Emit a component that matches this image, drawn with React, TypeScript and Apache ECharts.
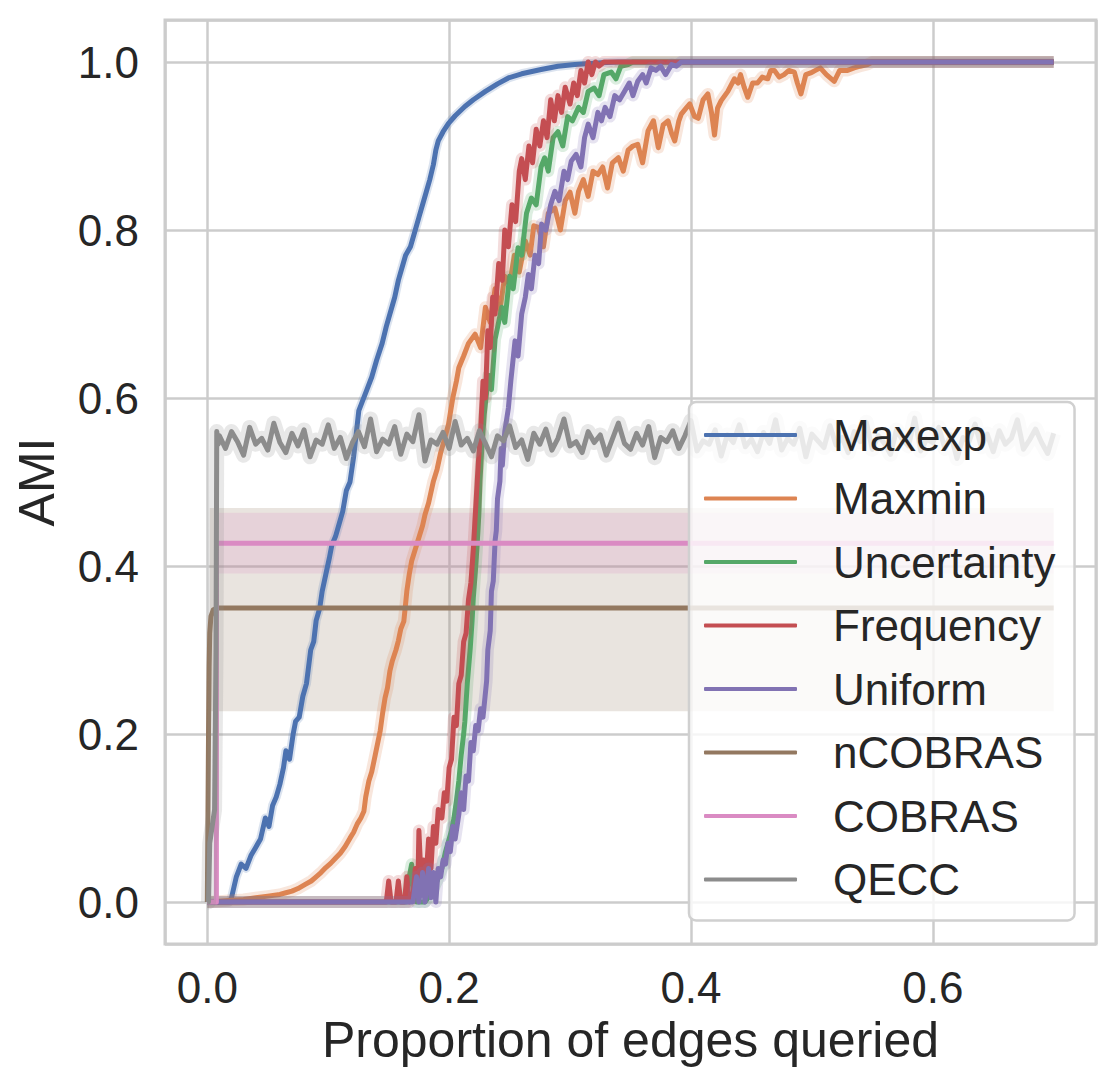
import React, { useEffect, useRef } from "react";
import * as echarts from "echarts";

const seriesNames = ["Maxexp", "Maxmin", "Uncertainty", "Frequency", "Uniform", "nCOBRAS", "COBRAS", "QECC"];
const seriesColors = ["#4c72b0", "#dd8452", "#55a868", "#c44e52", "#8172b3", "#937860", "#da8bc3", "#8c8c8c"];
const bandColors = ["rgba(76,114,176,0.2)", "rgba(221,132,82,0.2)", "rgba(85,168,104,0.2)", "rgba(196,78,82,0.2)", "rgba(129,114,179,0.2)", "rgba(147,120,96,0.2)", "rgba(218,139,195,0.2)", "rgba(140,140,140,0.2)"];

const maxexp: number[][] = [
  [0, 0], [0.018, 0], [0.02, 0.005], [0.024, 0.03], [0.028, 0.045], [0.032, 0.04], [0.036, 0.055], [0.04, 0.065],
  [0.044, 0.075], [0.048, 0.1], [0.051, 0.09], [0.054, 0.115], [0.057, 0.125], [0.06, 0.14], [0.063, 0.16], [0.065, 0.18],
  [0.068, 0.17], [0.071, 0.2], [0.073, 0.215], [0.076, 0.22], [0.079, 0.245], [0.082, 0.26], [0.0855, 0.3], [0.088, 0.31],
  [0.09, 0.335], [0.093, 0.35], [0.095, 0.37], [0.098, 0.39], [0.101, 0.41], [0.103, 0.425], [0.106, 0.435], [0.109, 0.45],
  [0.112, 0.465], [0.115, 0.49], [0.118, 0.5], [0.121, 0.53], [0.1253, 0.585], [0.128, 0.595], [0.132, 0.61], [0.136, 0.625],
  [0.14, 0.645], [0.1446, 0.665], [0.148, 0.685], [0.151, 0.7], [0.155, 0.72], [0.158, 0.74], [0.161, 0.755], [0.164, 0.77],
  [0.168, 0.78], [0.172, 0.8], [0.175, 0.815], [0.178, 0.83], [0.181, 0.845], [0.184, 0.86], [0.187, 0.878], [0.189, 0.895],
  [0.191, 0.906], [0.195, 0.917], [0.1995, 0.927], [0.205, 0.936], [0.213, 0.947], [0.22, 0.955], [0.23, 0.965], [0.24, 0.974],
  [0.249, 0.981], [0.26, 0.986], [0.276, 0.991], [0.29, 0.995], [0.304, 0.997], [0.326, 0.999], [0.34, 1.0], [0.7, 1.0],
];

const maxmin: number[][] = [
  [0, 0], [0.01, 0.001], [0.02, 0.002], [0.03, 0.003], [0.04, 0.005], [0.05, 0.007], [0.06, 0.009], [0.065, 0.011],
  [0.07, 0.013], [0.075, 0.016], [0.081, 0.021], [0.086, 0.025], [0.09, 0.03], [0.094, 0.035], [0.098, 0.041], [0.102, 0.046],
  [0.106, 0.052], [0.11, 0.058], [0.114, 0.066], [0.118, 0.076], [0.121, 0.083], [0.124, 0.093], [0.127, 0.1], [0.1295, 0.108],
  [0.131, 0.125], [0.1336, 0.144], [0.136, 0.155], [0.139, 0.176], [0.141, 0.19], [0.143, 0.204], [0.145, 0.225], [0.147, 0.243],
  [0.149, 0.255], [0.151, 0.275], [0.153, 0.287], [0.156, 0.3], [0.158, 0.311], [0.16, 0.325], [0.1625, 0.334], [0.164, 0.355],
  [0.165, 0.37], [0.167, 0.39], [0.169, 0.406], [0.172, 0.42], [0.175, 0.434], [0.178, 0.448], [0.18, 0.461], [0.183, 0.475],
  [0.187, 0.501], [0.19, 0.515], [0.193, 0.535], [0.196, 0.55], [0.1995, 0.569], [0.203, 0.6], [0.206, 0.62], [0.208, 0.636],
  [0.212, 0.65], [0.216, 0.665], [0.2215, 0.676], [0.226, 0.66], [0.23, 0.708], [0.234, 0.69], [0.238, 0.73], [0.242, 0.705],
  [0.246, 0.745], [0.25, 0.735], [0.254, 0.77], [0.258, 0.75], [0.263, 0.787], [0.267, 0.77], [0.27, 0.805], [0.274, 0.803],
  [0.278, 0.78], [0.282, 0.82], [0.2875, 0.826], [0.292, 0.8], [0.296, 0.835], [0.3, 0.845], [0.304, 0.82], [0.307, 0.846],
  [0.311, 0.86], [0.315, 0.84], [0.319, 0.87], [0.323, 0.866], [0.327, 0.875], [0.331, 0.85], [0.335, 0.88], [0.34, 0.886],
  [0.344, 0.87], [0.348, 0.895], [0.352, 0.9], [0.356, 0.902], [0.36, 0.88], [0.3645, 0.918], [0.369, 0.93], [0.373, 0.898],
  [0.377, 0.925], [0.381, 0.93], [0.384, 0.915], [0.3866, 0.906], [0.39, 0.93], [0.392, 0.938], [0.396, 0.945], [0.399, 0.95],
  [0.403, 0.935], [0.406, 0.933], [0.41, 0.955], [0.414, 0.962], [0.417, 0.94], [0.4195, 0.913], [0.422, 0.945], [0.425, 0.954],
  [0.428, 0.96], [0.4305, 0.965], [0.433, 0.972], [0.436, 0.98], [0.439, 0.975], [0.441, 0.985], [0.444, 0.97], [0.447, 0.958],
  [0.451, 0.975], [0.455, 0.975], [0.459, 0.982], [0.4635, 0.98], [0.466, 0.99], [0.469, 0.99], [0.473, 0.982], [0.477, 0.985],
  [0.481, 0.99], [0.4855, 0.988], [0.488, 0.975], [0.491, 0.962], [0.495, 0.985], [0.499, 0.987], [0.503, 0.99], [0.507, 0.993],
  [0.512, 0.985], [0.5185, 0.977], [0.523, 0.99], [0.5295, 0.99], [0.535, 0.993], [0.54, 0.995], [0.546, 0.997], [0.55, 1.0],
  [0.7, 1.0],
];

const uncertainty: number[][] = [
  [0, 0], [0.165, 0], [0.167, 0.03], [0.169, 0.045], [0.171, 0.01], [0.173, 0], [0.18, 0], [0.185, 0.01], [0.19, 0.025],
  [0.194, 0.04], [0.197, 0.06], [0.2, 0.075], [0.202, 0.085], [0.204, 0.1], [0.206, 0.12], [0.208, 0.144], [0.21, 0.175],
  [0.212, 0.2], [0.213, 0.215], [0.215, 0.26], [0.2175, 0.303], [0.219, 0.335], [0.22, 0.362], [0.222, 0.4], [0.223, 0.422],
  [0.2245, 0.46], [0.2255, 0.501], [0.227, 0.54], [0.229, 0.58], [0.2325, 0.627], [0.235, 0.61], [0.238, 0.67], [0.2435, 0.708],
  [0.246, 0.69], [0.25, 0.745], [0.253, 0.73], [0.257, 0.779], [0.26, 0.77], [0.264, 0.82], [0.268, 0.838], [0.272, 0.83],
  [0.276, 0.875], [0.279, 0.886], [0.282, 0.87], [0.286, 0.91], [0.29, 0.917], [0.294, 0.9], [0.298, 0.935], [0.302, 0.93],
  [0.307, 0.946], [0.311, 0.94], [0.315, 0.965], [0.32, 0.969], [0.324, 0.96], [0.328, 0.985], [0.334, 0.988], [0.338, 0.98],
  [0.342, 0.995], [0.348, 0.997], [0.352, 1.0], [0.7, 1.0],
];

const frequency: number[][] = [
  [0, 0], [0.148, 0], [0.15, 0.025], [0.152, 0], [0.156, 0], [0.158, 0.025], [0.16, 0], [0.163, 0], [0.165, 0.03], [0.167, 0],
  [0.17, 0.005], [0.172, 0.04], [0.174, 0.01], [0.175, 0.085], [0.177, 0.02], [0.179, 0.05], [0.181, 0.03], [0.183, 0.075],
  [0.185, 0.04], [0.187, 0.09], [0.189, 0.07], [0.191, 0.11], [0.194, 0.1], [0.196, 0.13], [0.198, 0.12], [0.2, 0.16],
  [0.202, 0.17], [0.204, 0.22], [0.206, 0.21], [0.208, 0.26], [0.21, 0.27], [0.212, 0.31], [0.214, 0.32], [0.216, 0.36],
  [0.218, 0.38], [0.22, 0.42], [0.222, 0.47], [0.224, 0.52], [0.226, 0.56], [0.228, 0.62], [0.23, 0.6], [0.232, 0.68],
  [0.234, 0.66], [0.236, 0.72], [0.238, 0.7], [0.241, 0.76], [0.244, 0.74], [0.246, 0.8], [0.249, 0.78], [0.252, 0.83],
  [0.255, 0.81], [0.258, 0.87], [0.26, 0.885], [0.263, 0.86], [0.266, 0.9], [0.269, 0.88], [0.272, 0.92], [0.275, 0.9],
  [0.278, 0.93], [0.281, 0.91], [0.284, 0.955], [0.287, 0.93], [0.29, 0.96], [0.293, 0.94], [0.296, 0.97], [0.3, 0.95],
  [0.303, 0.975], [0.306, 0.96], [0.309, 0.99], [0.312, 0.975], [0.315, 1.0], [0.318, 0.985], [0.321, 1.0], [0.324, 0.995],
  [0.328, 1.0], [0.7, 1.0],
];

const uniform: number[][] = [
  [0, 0], [0.17, 0], [0.173, 0.03], [0.175, 0], [0.178, 0.035], [0.18, 0], [0.183, 0.04], [0.185, 0.005], [0.187, 0.035],
  [0.189, 0], [0.191, 0.04], [0.193, 0.03], [0.195, 0.05], [0.197, 0.045], [0.199, 0.07], [0.201, 0.06], [0.203, 0.09],
  [0.205, 0.075], [0.208, 0.104], [0.21, 0.13], [0.212, 0.11], [0.214, 0.15], [0.216, 0.144], [0.218, 0.19], [0.22, 0.18],
  [0.222, 0.21], [0.224, 0.204], [0.226, 0.23], [0.228, 0.22], [0.231, 0.263], [0.232, 0.3], [0.234, 0.323], [0.235, 0.37],
  [0.2365, 0.382], [0.238, 0.43], [0.239, 0.442], [0.24, 0.48], [0.242, 0.501], [0.243, 0.54], [0.244, 0.52], [0.246, 0.56],
  [0.249, 0.588], [0.251, 0.62], [0.2545, 0.668], [0.257, 0.65], [0.26, 0.7], [0.263, 0.72], [0.2655, 0.747], [0.268, 0.73],
  [0.271, 0.77], [0.274, 0.76], [0.2765, 0.807], [0.28, 0.8], [0.284, 0.83], [0.2875, 0.846], [0.291, 0.835], [0.295, 0.87],
  [0.298, 0.86], [0.301, 0.882], [0.305, 0.89], [0.309, 0.875], [0.312, 0.91], [0.315, 0.926], [0.319, 0.91], [0.323, 0.94],
  [0.326, 0.93], [0.329, 0.946], [0.333, 0.935], [0.337, 0.96], [0.341, 0.955], [0.345, 0.965], [0.349, 0.975], [0.352, 0.96],
  [0.356, 0.977], [0.36, 0.985], [0.363, 0.975], [0.367, 0.993], [0.371, 0.99], [0.375, 0.995], [0.379, 0.985], [0.384, 0.997],
  [0.388, 0.995], [0.392, 1.0], [0.7, 1.0],
];

const ncobras: number[][] = [
  [0, 0], [0.0005, 0.1], [0.001, 0.2], [0.0015, 0.28], [0.002, 0.32], [0.003, 0.34], [0.005, 0.348], [0.008, 0.35], [0.7, 0.35],
];
const ncobrasBand = { start: 0.002, end: 0.7, low: 0.227, high: 0.469 };

const cobras: number[][] = [[0, 0], [0.0075, 0], [0.0076, 0.427], [0.7, 0.427]];
const cobrasBand = { start: 0.008, end: 0.7, low: 0.391, high: 0.4635 };

const qeccRise: number[][] = [
  [0, 0], [0.001, 0], [0.002, 0.07], [0.004, 0.09], [0.006, 0.11], [0.0072, 0.3], [0.0078, 0.56], [0.009, 0.545],
];
const qeccStartX = 0.01;
const qeccStepX = 0.005;
const qeccValues = [
  0.555, 0.54, 0.56, 0.548, 0.532, 0.565, 0.545, 0.552, 0.538, 0.57,
  0.547, 0.535, 0.558, 0.543, 0.562, 0.53, 0.55, 0.545, 0.568, 0.54,
  0.553, 0.528, 0.547, 0.56, 0.542, 0.575, 0.536, 0.551, 0.545, 0.566,
  0.533, 0.557, 0.548, 0.58, 0.525, 0.55, 0.545, 0.559, 0.54, 0.572,
  0.544, 0.552, 0.537, 0.561, 0.546, 0.53, 0.555, 0.549, 0.567, 0.541,
  0.55, 0.527, 0.558, 0.545, 0.563, 0.538, 0.552, 0.575, 0.543, 0.548,
  0.535, 0.56, 0.547, 0.556, 0.532, 0.551, 0.57, 0.546, 0.539, 0.558,
  0.544, 0.566, 0.529, 0.553, 0.548, 0.561, 0.54, 0.555, 0.573, 0.537,
  0.549, 0.545, 0.562, 0.531, 0.556, 0.547, 0.568, 0.542, 0.551, 0.536,
  0.559, 0.546, 0.574, 0.538, 0.552, 0.545, 0.564, 0.53, 0.557, 0.549,
  0.541, 0.567, 0.544, 0.553, 0.535, 0.56, 0.548, 0.571, 0.539, 0.555,
  0.546, 0.533, 0.562, 0.55, 0.543, 0.576, 0.537, 0.551, 0.547, 0.565,
  0.54, 0.556, 0.528, 0.553, 0.548, 0.569, 0.542, 0.557, 0.536, 0.561,
  0.545, 0.552, 0.574, 0.539, 0.55, 0.563, 0.547, 0.534, 0.558,
];
const qecc: number[][] = qeccRise.concat(qeccValues.map((v, i) => [qeccStartX + i * qeccStepX, v]));

const allData = [maxexp, maxmin, uncertainty, frequency, uniform, ncobras, cobras, qecc];
const bandWidths = [9, 12, 12, 12, 12, 0, 0, 15];
const bands: Record<string, { start: number; end: number; low: number; high: number }> = {
  nCOBRAS: ncobrasBand,
  COBRAS: cobrasBand,
};

const FONT = "'Liberation Sans', Arial, Helvetica, sans-serif";
const TEXT = "#262626";

export default function App() {
  const ref = useRef<HTMLDivElement>(null);
  useEffect(() => {
    if (!ref.current) return;
    const chart = echarts.init(ref.current, undefined, { renderer: "svg" });
    const series: any[] = [];
    allData.forEach((data, i) => {
      const name = seriesNames[i];
      if (bandWidths[i] > 0) {
        series.push({
          type: "line",
          name: name + " CI",
          data,
          symbol: "none",
          silent: true,
          lineStyle: { color: seriesColors[i], width: bandWidths[i], opacity: 0.2, join: "round" },
          itemStyle: { color: seriesColors[i] },
        });
      }
      const s: any = {
        type: "line",
        name,
        data,
        symbol: "none",
        silent: true,
        lineStyle: { color: seriesColors[i], width: 5, join: "round" },
        itemStyle: { color: seriesColors[i] },
      };
      const b = bands[name];
      if (b) {
        s.markArea = {
          silent: true,
          itemStyle: { color: bandColors[i] },
          data: [[{ xAxis: b.start, yAxis: b.low }, { xAxis: b.end, yAxis: b.high }]],
        };
      }
      series.push(s);
    });

    chart.setOption({
      animation: false,
      backgroundColor: "#ffffff",
      textStyle: { fontFamily: FONT },
      grid: {
        left: 165,
        right: 19,
        top: 20,
        bottom: 145,
        show: true,
        borderColor: "#cccccc",
        borderWidth: 3,
        backgroundColor: "transparent",
      },
      legend: {
        data: seriesNames,
        orient: "vertical",
        left: 689,
        top: 402,
        padding: [11, 19, 19, 15],
        itemGap: 19.5,
        itemWidth: 93,
        itemHeight: 4,
        icon: "roundRect",
        selectedMode: false,
        backgroundColor: "rgba(255,255,255,0.8)",
        borderColor: "#d0d0d0",
        borderWidth: 2.5,
        borderRadius: 7,
        textStyle: {
          fontSize: 44,
          lineHeight: 44,
          color: TEXT,
          fontFamily: FONT,
          padding: [0, 0, 0, 31],
        },
      },
      xAxis: {
        type: "value",
        min: -0.035,
        max: 0.735,
        splitNumber: 4,
        axisLine: { show: false },
        axisTick: { show: false },
        axisLabel: {
          fontSize: 44,
          color: TEXT,
          fontFamily: FONT,
          margin: 21,
          showMinLabel: false,
          showMaxLabel: false,
          formatter: (v: number) => v.toFixed(1),
        },
        splitLine: { show: true, lineStyle: { color: "#cccccc", width: 2.5 } },
        name: "Proportion of edges queried",
        nameLocation: "middle",
        nameGap: 71,
        nameTextStyle: { fontSize: 50, color: TEXT, fontFamily: FONT },
      },
      yAxis: {
        type: "value",
        min: -0.05,
        max: 1.05,
        splitNumber: 5,
        axisLine: { show: false },
        axisTick: { show: false },
        axisLabel: {
          fontSize: 44,
          color: TEXT,
          fontFamily: FONT,
          margin: 26,
          showMinLabel: false,
          showMaxLabel: false,
          formatter: (v: number) => v.toFixed(1),
        },
        splitLine: { show: true, lineStyle: { color: "#cccccc", width: 2.5 } },
        name: "AMI",
        nameLocation: "middle",
        nameGap: 103,
        nameTextStyle: { fontSize: 50, color: TEXT, fontFamily: FONT },
      },
      series,
    });
    return () => chart.dispose();
  }, []);
  return (
    <div
      ref={ref}
      style={{ position: "fixed", left: 0, top: 0, width: 1115, height: 1089, background: "#fff" }}
    />
  );
}
